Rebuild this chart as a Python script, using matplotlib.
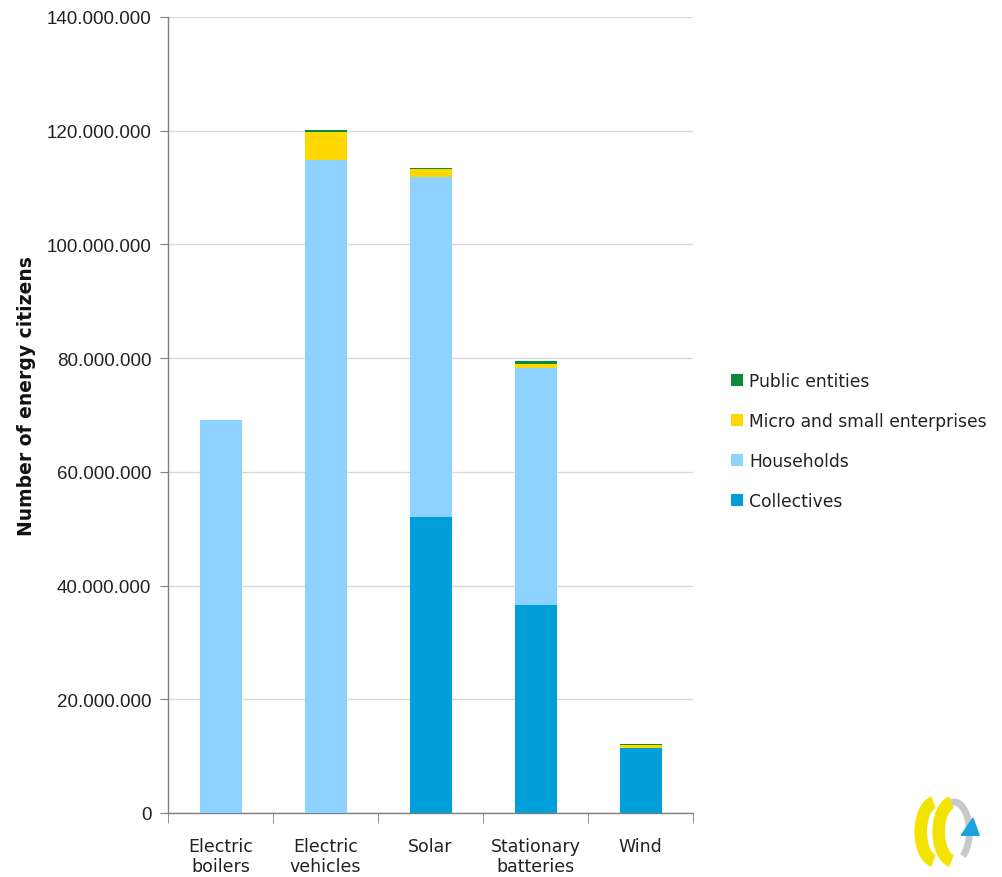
import matplotlib
matplotlib.use("Agg")
import matplotlib.pyplot as plt
import numpy as np
from matplotlib.patches import Arc, Polygon
from matplotlib.ticker import FuncFormatter, MultipleLocator

categories = ["Electric\nboilers", "Electric\nvehicles", "Solar", "Stationary\nbatteries", "Wind"]
collectives = [0, 0, 52.1e6, 36.6e6, 11.4e6]
households = [69.1e6, 114.8e6, 59.8e6, 41.7e6, 0]
micro_small = [0, 4.9e6, 1.3e6, 0.7e6, 0.6e6]
public_entities = [0, 0.4e6, 0.3e6, 0.5e6, 0.05e6]

series = [
    ("Collectives", collectives, "#009FDA"),
    ("Households", households, "#8ED2FF"),
    ("Micro and small enterprises", micro_small, "#FFD700"),
    ("Public entities", public_entities, "#0A8A3A"),
]

fig = plt.figure(figsize=(10.03, 8.78), dpi=100)
ax = fig.add_axes([168/1003, 1-814/878, (693-168)/1003, (814-18)/878])

x = np.arange(len(categories))
bottom = np.zeros(len(categories))
handles = []
for name, vals, col in series:
    vals = np.array(vals, dtype=float)
    b = ax.bar(x, vals, width=0.4, bottom=bottom, color=col, label=name, zorder=3)
    handles.append(b)
    bottom += vals

ax.set_xlim(-0.5, len(categories) - 0.5)
ax.set_ylim(0, 140e6)
ax.yaxis.set_major_locator(MultipleLocator(20e6))
ax.yaxis.set_major_formatter(FuncFormatter(lambda v, p: f"{int(round(v)):,}".replace(",", ".")))
ax.grid(axis="y", color="#D9D9D9", linewidth=1.0, zorder=0)
ax.set_axisbelow(True)

for s in ["top", "right"]:
    ax.spines[s].set_visible(False)
for s in ["left", "bottom"]:
    ax.spines[s].set_color("#808080")
    ax.spines[s].set_linewidth(1.0)

ax.set_xticks(x)
ax.set_xticklabels(categories, fontsize=12.5, family="DejaVu Sans", color="#222222", linespacing=1.2)
ax.tick_params(axis="x", length=0, pad=17)
ax.set_xticks(np.arange(-0.5, len(categories)), minor=True)
ax.tick_params(axis="x", which="minor", length=7, color="#808080", direction="out")
ax.tick_params(axis="y", length=6, color="#808080", labelsize=13.5, pad=6)
for lab in ax.get_yticklabels():
    lab.set_family("Liberation Sans")
    lab.set_color("#222222")

ax.set_ylabel("Number of energy citizens", fontsize=13.5, fontweight="bold", family="DejaVu Sans",
              color="#111111")
ax.yaxis.set_label_coords(-0.252, 0.525)

leg_handles = handles[::-1]
leg = fig.legend(leg_handles, [h.get_label() for h in leg_handles],
                 loc="center left", bbox_to_anchor=(716/1003, 1-442/878),
                 frameon=False, fontsize=12.3, handlelength=0.7, handleheight=0.7,
                 handletextpad=0.35, labelspacing=1.3)
for t in leg.get_texts():
    t.set_color("#222222")

# logo
lax = fig.add_axes([900/1003, 1-875/878, 90/1003, 90/878])
lax.set_xlim(0, 100)
lax.set_ylim(0, 100)
lax.axis("off")
lax.add_patch(Arc((40, 47), 34, 66, theta1=95, theta2=265, color="#F2E300", lw=9))
lax.add_patch(Arc((60, 47), 34, 66, theta1=95, theta2=265, color="#F2E300", lw=9))
lax.add_patch(Arc((60, 47), 34, 66, theta1=-70, theta2=95, color="#C8C8C8", lw=5))
lax.add_patch(Polygon([[68, 43], [88, 43], [81, 62]], closed=True, color="#1BA3E0"))

fig.savefig("out.png", dpi=100)
